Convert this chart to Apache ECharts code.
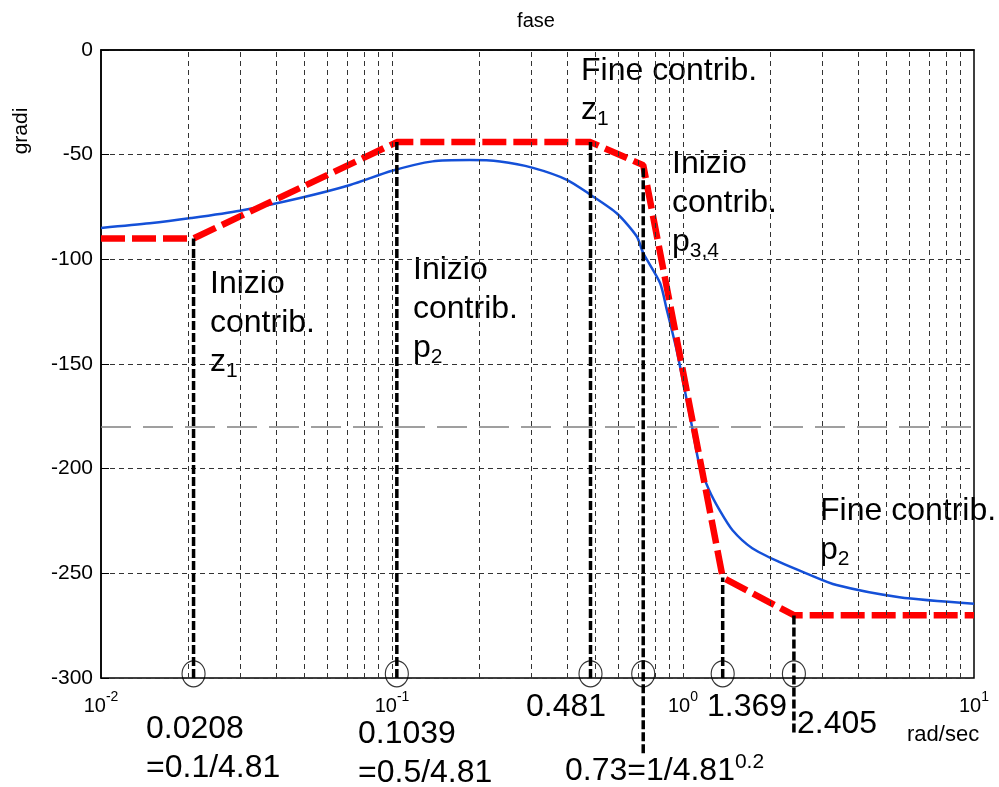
<!DOCTYPE html>
<html><head><meta charset="utf-8">
<script src="https://cdn.jsdelivr.net/npm/echarts@6/dist/echarts.min.js"></script>
<style>html,body{margin:0;padding:0;background:#fff}#c{width:999px;height:787px}</style>
</head><body><div id="c"></div>
<script>
// ---- data ----
const blueFreq  = [0.01, 0.0147, 0.0204, 0.030, 0.0483, 0.0718, 0.1, 0.138, 0.185, 0.235, 0.305, 0.399, 0.479, 0.592, 0.693, 0.73, 0.834, 0.88, 0.951, 1.03, 1.08, 1.135, 1.23, 1.336, 1.48, 1.73, 2.15, 2.65, 3.37, 5.54, 10];
const bluePhase = [-85, -82.8, -80.3, -76.8, -70.7, -64.5, -57.7, -53.2, -52.6, -53.3, -56.3, -62, -69, -78, -89, -97, -111.3, -124.2, -143.4, -167.2, -181.6, -197.4, -210.3, -219.8, -229.4, -238, -244.7, -250, -255.6, -261.4, -264.5];
const redFreq   = [0.01, 0.0208, 0.1039, 0.481, 0.73, 1.369, 2.405, 10];
const redPhase  = [-90, -90, -44, -44, -55, -252, -270, -270];
const breakFreqs  = [0.0208, 0.1039, 0.481, 0.73, 1.369, 2.405];
const breakTop    = [-90, -44, -44, -55, -252, -270];
const breakBottom = [-300, -300, -300, -336, -300, -326];
const circleLevel = -298;
const gridFreqs = [0.02,0.03,0.04,0.05,0.06,0.07,0.08,0.09,0.1,0.2,0.3,0.4,0.5,0.6,0.7,0.8,0.9,1,2,3,4,5,6,7,8,9];
const piLine = -180;

const FF = '"Liberation Sans", Arial, Helvetica, sans-serif';
const chart = echarts.init(document.getElementById('c'), null, {renderer:'canvas'});
const zip = (a,b)=>a.map((v,i)=>[v,b[i]]);

const series = [];
series.push({
  type:'line', data:[[0.01,-300]], symbol:'none', lineStyle:{opacity:0}, z:1, silent:true,
  markLine:{
    silent:true, symbol:['none','none'], label:{show:false}, animation:false,
    lineStyle:{color:'#333', width:1, type:[5,4]},
    data: gridFreqs.map(f=>({xAxis:f})).concat([{yAxis:piLine, lineStyle:{color:'#808080', width:1.5, type:[30,12]}}])
  }
});
series.push({type:'line', data:zip(blueFreq,bluePhase), symbol:'none', smooth:0.25,
  lineStyle:{color:'#1450d8', width:2.5}, z:2});
series.push({type:'line', data:zip(redFreq,redPhase), symbol:'none',
  lineStyle:{color:'#ff0000', width:6.5, type:[24,7], cap:'butt'}, z:3});
breakFreqs.forEach((f,i)=>{
  series.push({type:'line', data:[[f,breakBottom[i]],[f,breakTop[i]]], symbol:'none', clip:false,
    lineStyle:{color:'#000', width:3.5, type:[9,3]}, z:4});
});
series.push({type:'scatter', data:breakFreqs.map(f=>[f,circleLevel]), clip:false,
  symbol:'path://M0,-1C0.552,-1,1,-0.552,1,0C1,0.552,0.552,1,0,1C-0.552,1,-1,0.552,-1,0C-1,-0.552,-0.552,-1,0,-1Z',
  symbolSize:[23,26], itemStyle:{color:'rgba(0,0,0,0)', borderColor:'#000', borderWidth:1.2}, z:5});

// ---- annotation texts ----
const L = 39.3;
const richA = {
  a:{fontSize:32, fontFamily:FF, fill:'#000', lineHeight:L},
  s:{fontSize:21, fontFamily:FF, fill:'#000', lineHeight:18, verticalAlign:'bottom'},
  u:{fontSize:21, fontFamily:FF, fill:'#000', lineHeight:30, verticalAlign:'top'}
};
function annot(x, baseline, text){
  return {type:'text', x:x, y: baseline - L/2 - 0.3465*32, silent:true,
    style:{text:text, rich:richA, fontFamily:FF, fontSize:32, fill:'#000', align:'left', verticalAlign:'top'}};
}
function plain(x, baseline, text, fs, align){
  const lh = fs*1.2;
  return {type:'text', x:x, y: baseline - lh/2 - 0.3465*fs, silent:true,
    style:{text:text, fontFamily:FF, fontSize:fs, lineHeight:lh, fill:'#000', align:align||'left', verticalAlign:'top'}};
}
const graphics = [
  annot(210, 295, '{a|Inizio}\n{a|contrib.}\n{a|z}{s|1}'),
  annot(413, 281, '{a|Inizio}\n{a|contrib.}\n{a|p}{s|2}'),
  annot(581, 82, '{a|Fine contrib.}\n{a|z}{s|1}'),
  annot(672, 175, '{a|Inizio}\n{a|contrib.}\n{a|p}{s|3,4}'),
  annot(820, 522, '{a|Fine contrib.}\n{a|p}{s|2}'),
  annot(146, 740, '{a|0.0208}\n{a|=0.1/4.81}'),
  annot(358, 745, '{a|0.1039}\n{a|=0.5/4.81}'),
  annot(526, 718, '{a|0.481}'),
  annot(707, 718, '{a|1.369}'),
  annot(797, 735, '{a|2.405}'),
  annot(565, 782, '{a|0.73=1/4.81}{u|0.2}'),
  plain(907, 743, 'rad/sec', 22),
  plain(536, 28, 'fase', 20, 'center'),
  {type:'text', x:21, y:131, rotation:Math.PI/2, silent:true,
    style:{text:'gradi', fontFamily:FF, fontSize:21, fill:'#000', align:'center', verticalAlign:'middle'}}
];

chart.setOption({
  animation:false,
  backgroundColor:'#fff',
  grid:{left:101, right:25, top:50, bottom:109, show:true, borderColor:'#000', borderWidth:1.5, backgroundColor:'#fff'},
  xAxis:{type:'log', logBase:10, min:0.01, max:10,
    axisLine:{show:true, lineStyle:{color:'#000', width:1.5}},
    axisTick:{show:false}, splitLine:{show:false},
    axisLabel:{margin:12, showMinLabel:true, showMaxLabel:true,
      formatter:v=>'{b|10}{s|'+Math.round(Math.log10(v))+'}',
      rich:{b:{fontSize:20, fontFamily:FF, color:'#000', lineHeight:32},
            s:{fontSize:14, fontFamily:FF, color:'#000', lineHeight:14, verticalAlign:'top'}}}},
  yAxis:{type:'value', min:-300, max:0, interval:50,
    axisLine:{show:true, lineStyle:{color:'#000', width:1.5}},
    axisTick:{show:true, inside:true, length:8, lineStyle:{color:'#000'}},
    axisLabel:{fontSize:21, fontFamily:FF, color:'#000', margin:8},
    splitLine:{show:true, lineStyle:{color:'#333', width:1, type:[5,4]}}},
  series:series,
  graphic:graphics
});
</script></body></html>
